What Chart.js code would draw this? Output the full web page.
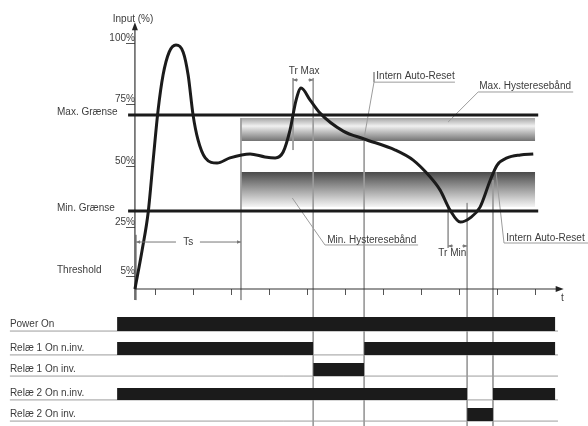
<!DOCTYPE html>
<html>
<head>
<meta charset="utf-8">
<script src="https://cdn.jsdelivr.net/npm/chart.js@4.4.1/dist/chart.umd.min.js"></script>
<style>
  html, body { margin: 0; padding: 0; background: #fff; }
  #wrap { width: 588px; height: 426px; position: relative; }
</style>
</head>
<body>
<div id="wrap"><canvas id="relayChart"></canvas></div>
<script>
// ---- values ----
var tTicks = [1, 2, 3, 4, 5, 6, 7, 8, 9, 10, 11];
var pctTicks = [5, 25, 50, 75, 100];

// input signal, time vs %
var inputT   = [0.47, 0.66, 0.82, 0.95, 1.08, 1.21, 1.37, 1.55, 1.74, 1.87, 2.0, 2.13, 2.32, 2.63, 2.97, 3.5, 3.89, 4.16, 4.37, 4.55, 4.71, 4.84, 5.08, 5.34, 5.95, 6.5, 7.32, 7.79, 8.24, 8.5, 8.76, 9.03, 9.29, 9.55, 9.82, 10.0, 10.26, 10.61, 10.95];
var inputPct = [0, 15.9, 31.3, 52.4, 72.8, 87.0, 96.3, 99.2, 96.3, 87.0, 70.7, 60.6, 53.3, 51.2, 53.3, 54.9, 53.7, 53.3, 55.7, 64.6, 76.8, 81.7, 76.8, 71.5, 64.2, 61.0, 56.5, 52.4, 45.5, 40.2, 32.1, 27.2, 28.9, 33.3, 44.3, 50.4, 53.3, 54.5, 54.9];

var maxLimit = 70.7;          // Max. Grænse
var minLimit = 31.7;          // Min. Grænse
var maxHyst = [60.2, 69.5];   // Max. Hysteresebånd
var minHyst = [33.3, 47.6];   // Min. Hysteresebånd

// event times
var tPowerOn = 0, tsStart = 0.5, tsEnd = 3.26;
var trMax = [4.63, 5.16], reset1 = 6.5;
var trMin = [8.71, 9.21], reset2 = 9.89;
var tEnd = 11.53;

var rowNames = ['Power On', 'Relæ 1 On n.inv.', 'Relæ 1 On inv.', 'Relæ 2 On n.inv.', 'Relæ 2 On inv.'];
var rowOn = [
  [[tPowerOn, tEnd]],
  [[tPowerOn, trMax[1]], [reset1, tEnd]],
  [[trMax[1], reset1]],
  [[tPowerOn, trMin[1]], [reset2, tEnd]],
  [[trMin[1], reset2]]
];

// ---- layout (chart units) ----
var X_MIN = -3.08, X_MAX = 12.39, Y_MIN = -55.7, Y_MAX = 117.5;
var Y_AXIS_AT = 0.47;
var rowTop = [-11.4, -21.5, -30.1, -40.2, -48.4];
var rowBot = [-17.1, -26.8, -35.4, -45.1, -53.7];
var labelLeft = -2.82, lineRight = 11.6;

var INK = '#1b1b1b', GUIDE = '#9c9c9c', TEXT = '#3c3c3c';
var FONT = '10px "Liberation Sans", Arial, sans-serif';

function pts(list) {
  return list.map(function (p) { return { x: p[0], y: p[1] }; });
}
function line(list, color, width, order) {
  return { type: 'line', data: pts(list), borderColor: color, borderWidth: width,
           pointRadius: 0, fill: false, tension: 0, order: order };
}
function block(x0, x1, top, bottom, color, order) {
  var d = line([[x0, top], [x1, top]], 'rgba(0,0,0,0)', 1, order);
  d.fill = { value: bottom };
  d.backgroundColor = color;
  return d;
}
function band(range, stops) {
  var d = block(tsEnd, 11.0, range[1], range[0], '#ccc', 6);
  d.backgroundColor = function (c) {
    var ch = c.chart;
    if (!ch.chartArea) return '#ccc';
    var y0 = ch.scales.y.getPixelForValue(range[1]);
    var y1 = ch.scales.y.getPixelForValue(range[0]);
    var g = ch.ctx.createLinearGradient(0, y0, 0, y1);
    stops.forEach(function (s) { g.addColorStop(s[0], s[1]); });
    return g;
  };
  return d;
}

var datasets = [];

// input curve
datasets.push({
  type: 'line',
  data: inputT.map(function (t, i) { return { x: t, y: inputPct[i] }; }),
  borderColor: INK, borderWidth: 3, pointRadius: 0,
  cubicInterpolationMode: 'monotone', fill: false, order: 0
});

// limits
datasets.push(line([[0.29, maxLimit], [11.08, maxLimit]], INK, 3, 1));
datasets.push(line([[0.29, minLimit], [11.08, minLimit]], INK, 3, 1));

// hysteresis bands
datasets.push(band(maxHyst, [[0, '#a6a6a6'], [0.35, '#f0f0f0'], [1, '#737373']]));
datasets.push(band(minHyst, [[0, '#4a4a4a'], [1, '#f6f6f6']]));

// axes
datasets.push(line([[Y_AXIS_AT, -4.5], [Y_AXIS_AT, 107]], '#333', 1.2, 2));
datasets.push(line([[Y_AXIS_AT, 0], [11.62, 0]], '#333', 1.2, 2));

// guide and leader lines
var guides = [
  [[tsStart, 22], [tsStart, -4.5]],
  [[tsEnd, maxHyst[1]], [tsEnd, -4.5]],
  [[trMax[0], 85.8], [trMax[0], 56.5]],
  [[trMax[1], 85.8], [trMax[1], Y_MIN]],
  [[6.76, 88.2], [6.76, 84.1], [reset1, 61.4], [reset1, Y_MIN]],
  [[6.76, 84.1], [8.89, 84.1]],
  [[trMin[0], 34.1], [trMin[0], 16.7]],
  [[trMin[1], 35], [trMin[1], Y_MIN]],
  [[reset2, 44.3], [reset2, Y_MIN]],
  [[9.97, 47.6], [10.18, 18.7], [12.39, 18.7]],
  [[8.71, 67.9], [9.5, 80.1], [12.0, 80.1]],
  [[4.61, 37.0], [5.47, 17.9], [7.92, 17.9]]
];
guides.forEach(function (g) { datasets.push(line(g, GUIDE, 1, 4)); });

// relay rows
rowNames.forEach(function (name, i) {
  datasets.push(line([[labelLeft, rowBot[i]], [lineRight, rowBot[i]]], GUIDE, 1, 5));
  rowOn[i].forEach(function (on) {
    datasets.push(block(on[0], on[1], rowTop[i], rowBot[i], INK, 3));
  });
});

// text
var notes = [
  { t: 'Input (%)', x: 0.42, y: 109.8, a: 'center' },
  { t: 'Max. Grænse', x: -1.58, y: 72.0 },
  { t: 'Min. Grænse', x: -1.58, y: 32.9 },
  { t: 'Threshold', x: -1.58, y: 7.7 },
  { t: 'Ts', x: 1.87, y: 19.1, a: 'center' },
  { t: 'Tr Max', x: 4.92, y: 88.6, a: 'center' },
  { t: 'Intern Auto-Reset', x: 6.82, y: 86.6 },
  { t: 'Max. Hysteresebånd', x: 9.53, y: 82.5 },
  { t: 'Min. Hysteresebånd', x: 5.53, y: 19.9 },
  { t: 'Tr Min', x: 8.82, y: 14.6, a: 'center' },
  { t: 'Intern Auto-Reset', x: 10.24, y: 20.7 },
  { t: 't', x: 11.68, y: -3.7 }
];
rowNames.forEach(function (name, i) {
  notes.push({ t: name, x: labelLeft, y: rowBot[i] + 2.6 });
});

// dimension arrows: from, to, level, gap for text
var dims = [
  { from: tsStart, to: tsEnd, y: 19.1, gap: [1.55, 2.18] },
  { from: trMax[0], to: trMax[1], y: 85.0, gap: [4.76, 5.03] },
  { from: trMin[0], to: trMin[1], y: 17.5, gap: [8.84, 9.08] }
];

function head(ctx, px, py, dx, dy, len, wid) {
  ctx.beginPath();
  ctx.moveTo(px, py);
  ctx.lineTo(px - dx * len - dy * wid, py - dy * len + dx * wid);
  ctx.lineTo(px - dx * len + dy * wid, py - dy * len - dx * wid);
  ctx.closePath();
  ctx.fill();
}

var notesPlugin = {
  id: 'notes',
  afterDraw: function (chart) {
    var ctx = chart.ctx, x = chart.scales.x, y = chart.scales.y;
    ctx.save();
    // axis arrow heads
    ctx.fillStyle = '#222';
    head(ctx, x.getPixelForValue(Y_AXIS_AT), y.getPixelForValue(108.5), 0, -1, 8, 3);
    head(ctx, x.getPixelForValue(11.75), y.getPixelForValue(0), 1, 0, 8, 3);
    // dimension arrows
    ctx.strokeStyle = '#777';
    ctx.fillStyle = '#777';
    ctx.lineWidth = 1;
    dims.forEach(function (d) {
      var py = y.getPixelForValue(d.y);
      var a = x.getPixelForValue(d.from), b = x.getPixelForValue(d.to);
      var g0 = x.getPixelForValue(d.gap[0]), g1 = x.getPixelForValue(d.gap[1]);
      ctx.beginPath();
      ctx.moveTo(a, py); ctx.lineTo(g0, py);
      ctx.moveTo(g1, py); ctx.lineTo(b, py);
      ctx.stroke();
      head(ctx, a, py, -1, 0, 4, 1.8);
      head(ctx, b, py, 1, 0, 4, 1.8);
    });
    // labels
    ctx.font = FONT;
    ctx.fillStyle = TEXT;
    ctx.textBaseline = 'middle';
    notes.forEach(function (n) {
      ctx.textAlign = n.a || 'left';
      ctx.fillText(n.t, x.getPixelForValue(n.x), y.getPixelForValue(n.y));
    });
    ctx.restore();
  }
};

var chart = new Chart(document.getElementById('relayChart').getContext('2d'), {
  type: 'line',
  data: { datasets: datasets },
  options: {
    responsive: true,
    maintainAspectRatio: false,
    animation: false,
    events: [],
    layout: { padding: 0 },
    plugins: { legend: { display: false }, tooltip: { enabled: false } },
    scales: {
      x: {
        type: 'linear', min: X_MIN, max: X_MAX,
        position: { y: 0 },
        afterBuildTicks: function (s) { s.ticks = tTicks.map(function (v) { return { value: v }; }); },
        afterFit: function (s) { s.paddingLeft = 0; s.paddingRight = 0; },
        ticks: { display: false },
        grid: { drawOnChartArea: false, tickLength: 6, tickColor: '#555', tickWidth: 1 },
        border: { display: false }
      },
      y: {
        type: 'linear', min: Y_MIN, max: Y_MAX,
        position: { x: Y_AXIS_AT },
        afterBuildTicks: function (s) { s.ticks = pctTicks.map(function (v) { return { value: v }; }); },
        afterFit: function (s) { s.paddingTop = 0; s.paddingBottom = 0; },
        ticks: {
          autoSkip: false,
          labelOffset: -5,
          color: TEXT,
          font: { family: '"Liberation Sans", Arial, sans-serif', size: 10 },
          callback: function (v) { return v + '%'; }
        },
        grid: { drawOnChartArea: false, tickLength: 9, tickColor: '#555', tickWidth: 1 },
        border: { display: false }
      }
    }
  },
  plugins: [notesPlugin]
});
</script>
</body>
</html>
